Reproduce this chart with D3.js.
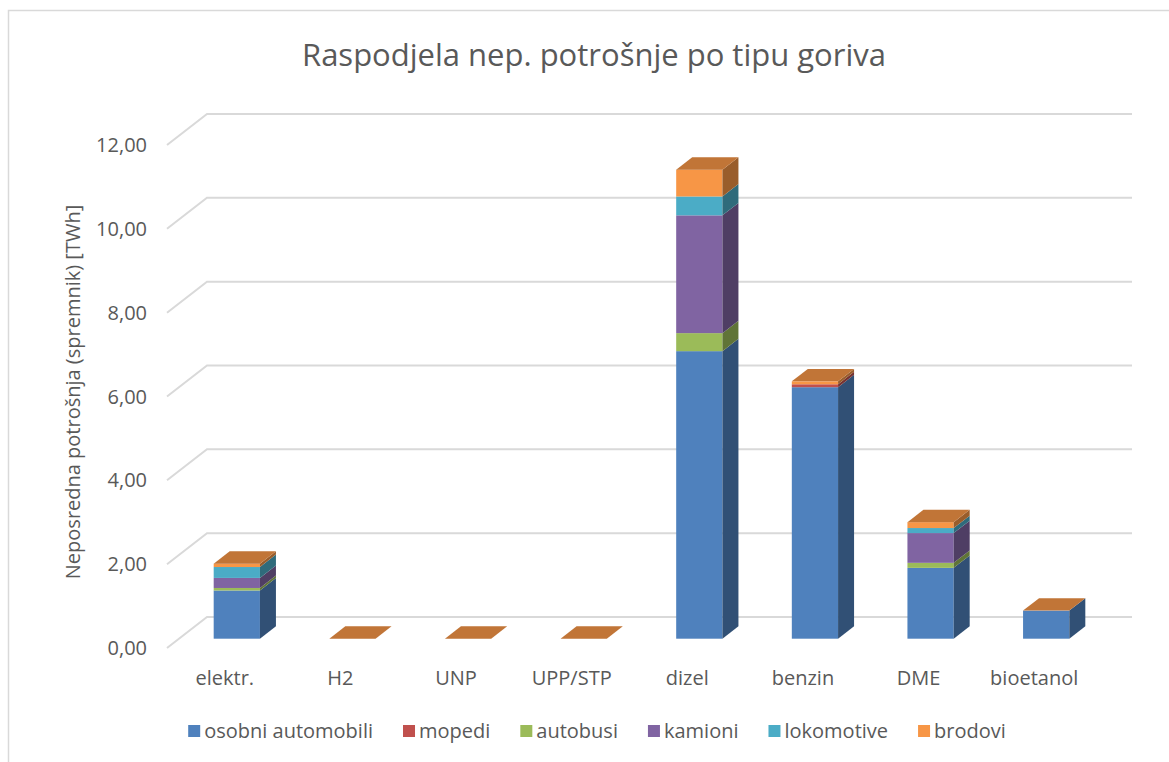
<!DOCTYPE html>
<html><head><meta charset="utf-8">
<script src="https://cdn.jsdelivr.net/npm/d3@7"></script>
<style>body{margin:0;background:#fff}svg{display:block}text{font-family:"Open Sans",sans-serif;fill:#595959}</style>
</head><body><svg id="c" width="1169" height="762"></svg>
<script>
const categories = ["elektr.","H2","UNP","UPP/STP","dizel","benzin","DME","bioetanol"];
const seriesNames = ["osobni automobili","mopedi","autobusi","kamioni","lokomotive","brodovi"];
const seriesColors = ["#4F81BD","#C0504D","#9BBB59","#8064A2","#4BACC6","#F79646"];
const osobniAutomobili = [1.15,0,0,0,6.86,6.00,1.69,0.67];
const mopedi          = [0,0,0,0,0,0.07,0,0];
const autobusi        = [0.06,0,0,0,0.43,0,0.12,0];
const kamioni         = [0.24,0,0,0,2.81,0,0.71,0];
const lokomotive      = [0.26,0,0,0,0.45,0,0.12,0];
const brodovi         = [0.08,0,0,0,0.64,0.07,0.14,0];
const yTicks = [0,2,4,6,8,10,12];
const title = "Raspodjela nep. potrošnje po tipu goriva";
const yTitle = "Neposredna potrošnja (spremnik) [TWh]";

const seriesValues = [osobniAutomobili,mopedi,autobusi,kamioni,lokomotive,brodovi];
const table = categories.map((c,i)=>{const o={cat:c}; seriesNames.forEach((s,j)=>o[s]=seriesValues[j][i]); return o;});
const stacked = d3.stack().keys(seriesNames)(table);

const svg = d3.select("#c");
const depthX = 40, depthY = -31;
const x = d3.scaleBand().domain(categories).range([167,1092]).padding(0);
const y = d3.scaleLinear().domain([0,12]).range([648,145]);
const bw = x.bandwidth();

function darker(c,k){const r=d3.rgb(c);return d3.rgb(r.r*k,r.g*k,r.b*k).formatHex();}

// frame
svg.append("path").attr("d","M8.5,762V10.5H1169").attr("fill","none").attr("stroke","#D9D9D9").attr("stroke-width",1.5);

// title
svg.append("text").attr("x",594).attr("y",66).attr("text-anchor","middle").style("font-size","31px").text(title);

// gridlines (back wall + left diagonal)
const grid = svg.append("g");
yTicks.forEach(t=>{
  const yf=y(t);
  grid.append("path").attr("d",`M${x.range()[0]},${yf}L${x.range()[0]+depthX},${yf+depthY}H${x.range()[1]+depthX}`)
    .attr("fill","none").attr("stroke","#D9D9D9").attr("stroke-width",2);
});
// tick labels
svg.append("g").selectAll("text").data(yTicks).join("text")
  .attr("x",147).attr("y",d=>y(d)).attr("dy","0.35em").attr("text-anchor","end")
  .style("font-size","20px").text(d=>d3.format(".2f")(d).replace(".",","));

// y title
svg.append("text").attr("transform","translate(80,392) rotate(-90)").attr("text-anchor","middle")
  .style("font-size","20px").text(yTitle);

// bars
const f0 = 0.3, f1 = 0.7;
const bdx = depthX*(f1-f0), bdy = depthY*(f1-f0);
const bars = svg.append("g");
categories.forEach((c,i)=>{
  const x0 = x(c) + bw*0.3 + depthX*f0;
  const x1 = x0 + bw*0.4;
  const off = depthY*f0;
  stacked.forEach((s,j)=>{
    const [v0,v1]=s[i];
    if(v1-v0<=0) return;
    const yb=y(v0)+off, yt=y(v1)+off;
    bars.append("rect").attr("x",x0).attr("y",yt).attr("width",x1-x0).attr("height",yb-yt).attr("fill",seriesColors[j]);
    bars.append("path").attr("d",`M${x1},${yt}L${x1+bdx},${yt+bdy}L${x1+bdx},${yb+bdy}L${x1},${yb}Z`).attr("fill",darker(seriesColors[j],0.62));
  });
  const top = stacked[stacked.length-1][i][1];
  const yt = y(top)+off;
  bars.append("path").attr("d",`M${x0},${yt}L${x1},${yt}L${x1+bdx},${yt+bdy}L${x0+bdx},${yt+bdy}Z`).attr("fill",darker(seriesColors[5],0.78));
});

// category labels
svg.append("g").selectAll("text").data(categories).join("text")
  .attr("x",d=>x(d)+bw/2).attr("y",685).attr("text-anchor","middle").style("font-size","20px").text(d=>d);

// legend
const lg = svg.append("g");
let cx = 0;
seriesNames.forEach((s,j)=>{
  const g = lg.append("g").attr("transform",`translate(${cx},0)`);
  g.append("rect").attr("x",0).attr("y",-6).attr("width",12).attr("height",12).attr("fill",seriesColors[j]);
  const t=g.append("text").attr("x",16).attr("y",0).attr("dy","0.35em").style("font-size","20px").text(s);
  cx += 16 + t.node().getComputedTextLength() + 30;
});
const totalW = cx-30;
lg.attr("transform",`translate(${597-totalW/2},731)`);
</script></body></html>
